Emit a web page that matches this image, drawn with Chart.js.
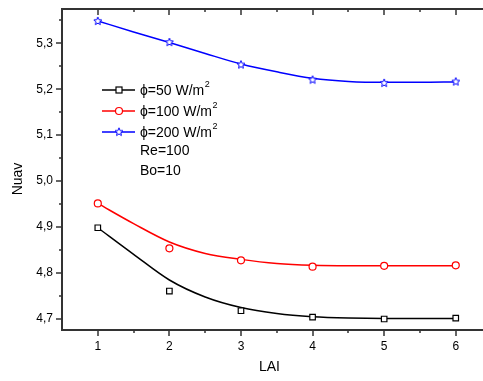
<!DOCTYPE html>
<html>
<head>
<meta charset="utf-8">
<script src="https://cdn.jsdelivr.net/npm/chart.js@4/dist/chart.umd.min.js"></script>
<style>
  html, body { margin: 0; padding: 0; background: #fff; }
  #wrap { width: 483px; height: 381px; }
</style>
</head>
<body>
<div id="wrap"><canvas id="nuChart"></canvas></div>
<script>
// measured points
const lai = [1, 2, 3, 4, 5, 6];
const nu50 = [4.898, 4.760, 4.717, 4.703, 4.699, 4.701];
const nu100 = [4.951, 4.853, 4.827, 4.813, 4.815, 4.816];
const nu200 = [5.349, 5.303, 5.254, 5.221, 5.214, 5.217];

// fitted curves, sampled every half unit of LAI
const laiFit = [1, 1.5, 2, 2.5, 3, 3.5, 4, 4.5, 5, 5.5, 6];
const fit50 = [4.898, 4.840, 4.784, 4.747, 4.724, 4.711, 4.704, 4.701, 4.700, 4.700, 4.700];
const fit100 = [4.951, 4.907, 4.867, 4.842, 4.829, 4.820, 4.816, 4.815, 4.815, 4.815, 4.815];
const fit200 = [5.349, 5.325, 5.302, 5.278, 5.255, 5.238, 5.224, 5.217, 5.215, 5.215, 5.216];

const yMajor = [4.7, 4.8, 4.9, 5.0, 5.1, 5.2, 5.3];
const yMinor = [4.75, 4.85, 4.95, 5.05, 5.15, 5.25, 5.35];
const xMinor = [1.5, 2.5, 3.5, 4.5, 5.5];

const legendLabels = ['\u03d5=50 W/m', '\u03d5=100 W/m', '\u03d5=200 W/m'];
const notes = ['Re=100', 'Bo=10'];

const FONT = '"Liberation Sans", Arial, sans-serif';
const AXIS = '#333';

// five-pointed hollow star marker
function makeStar(color) {
  const c = document.createElement('canvas');
  c.width = 10; c.height = 10;
  const g = c.getContext('2d');
  g.strokeStyle = color;
  g.fillStyle = '#fff';
  g.lineWidth = 1;
  g.beginPath();
  for (let i = 0; i < 10; i++) {
    const r = i % 2 === 0 ? 4.2 : 1.9;
    const a = -Math.PI / 2 + i * Math.PI / 5;
    const px = 5 + r * Math.cos(a), py = 5.3 + r * Math.sin(a);
    if (i === 0) g.moveTo(px, py); else g.lineTo(px, py);
  }
  g.closePath();
  g.fill();
  g.stroke();
  return c;
}
const starImg = makeStar('#0000ff');

const pts = (xs, ys) => xs.map((x, i) => ({ x: x, y: ys[i] }));

function fitSet(data, color) {
  return {
    data: pts(laiFit, data), showLine: true, borderColor: color, borderWidth: 1.5,
    pointRadius: 0, cubicInterpolationMode: 'monotone', order: 2
  };
}
function markSet(data, color, style, r) {
  return {
    data: pts(lai, data), showLine: false, borderColor: color, backgroundColor: '#fff',
    pointStyle: style, pointRadius: r, pointBorderWidth: 1.2, order: 1
  };
}

// frame, tick marks, y title and in-plot legend
const framePlugin = {
  id: 'frame',
  afterDraw(chart) {
    const { ctx, chartArea: a, scales: { x, y } } = chart;
    const edge = chart.width; // frame runs on past the plot's right edge
    ctx.save();
    ctx.strokeStyle = AXIS;
    ctx.lineWidth = 2;
    ctx.beginPath();
    ctx.moveTo(a.left, a.top); ctx.lineTo(edge, a.top);
    ctx.moveTo(a.left, a.top - 1); ctx.lineTo(a.left, a.bottom + 1);
    ctx.moveTo(a.left - 1, a.bottom); ctx.lineTo(edge, a.bottom);
    ctx.stroke();

    ctx.lineWidth = 1.5;
    ctx.beginPath();
    yMajor.forEach(v => { const p = Math.round(y.getPixelForValue(v)); ctx.moveTo(a.left, p); ctx.lineTo(a.left - 6, p); });
    yMinor.forEach(v => { const p = Math.round(y.getPixelForValue(v)); ctx.moveTo(a.left, p); ctx.lineTo(a.left - 3, p); });
    lai.forEach(v => {
      const p = Math.round(x.getPixelForValue(v));
      ctx.moveTo(p, a.bottom); ctx.lineTo(p, a.bottom + 6);
      ctx.moveTo(p, a.top); ctx.lineTo(p, a.top + 6);
    });
    xMinor.forEach(v => {
      const p = Math.round(x.getPixelForValue(v));
      ctx.moveTo(p, a.bottom); ctx.lineTo(p, a.bottom + 3);
      ctx.moveTo(p, a.top); ctx.lineTo(p, a.top + 3);
    });
    ctx.stroke();

    // y axis title
    ctx.fillStyle = '#000';
    ctx.font = '14px ' + FONT;
    ctx.textAlign = 'center';
    ctx.textBaseline = 'middle';
    ctx.translate(18, 179);
    ctx.rotate(-Math.PI / 2);
    ctx.fillText('Nuav', 0, 0);
    ctx.setTransform(1, 0, 0, 1, 0, 0);

    // legend
    const colors = ['#000', '#ff0000', '#0000ff'];
    const rows = [90, 111, 132];
    ctx.textAlign = 'left';
    rows.forEach((ry, i) => {
      ctx.strokeStyle = colors[i];
      ctx.lineWidth = 1.5;
      ctx.beginPath();
      ctx.moveTo(102, ry); ctx.lineTo(135, ry);
      ctx.stroke();
      ctx.lineWidth = 1.2;
      ctx.fillStyle = '#fff';
      if (i === 0) {
        ctx.fillRect(116, ry - 3, 6, 6);
        ctx.strokeRect(116, ry - 3, 6, 6);
      } else if (i === 1) {
        ctx.beginPath(); ctx.arc(119, ry, 3.5, 0, Math.PI * 2); ctx.fill(); ctx.stroke();
      } else {
        ctx.drawImage(starImg, 119 - 5, ry - 5.3);
      }
      ctx.fillStyle = '#000';
      ctx.font = '14px ' + FONT;
      ctx.fillText(legendLabels[i], 140, ry + 1);
      const w = ctx.measureText(legendLabels[i]).width;
      ctx.font = '9px ' + FONT;
      ctx.fillText('2', 140 + w + 0.5, ry - 5);
    });
    ctx.font = '14px ' + FONT;
    ctx.fillStyle = '#000';
    notes.forEach((t, i) => ctx.fillText(t, 140, 151 + i * 20));
    ctx.restore();
  }
};

new Chart(document.getElementById('nuChart'), {
  type: 'scatter',
  data: {
    datasets: [
      fitSet(fit50, '#000'),
      fitSet(fit100, '#ff0000'),
      fitSet(fit200, '#0000ff'),
      markSet(nu50, '#000', 'rect', 3.9),
      markSet(nu100, '#ff0000', 'circle', 3.5),
      markSet(nu200, '#0000ff', starImg, 5)
    ]
  },
  options: {
    responsive: true,
    maintainAspectRatio: false,
    animation: false,
    layout: { padding: { top: 9, right: 0, left: 0, bottom: 0 } },
    plugins: { legend: { display: false }, tooltip: { enabled: false } },
    scales: {
      x: {
        type: 'linear', min: 0.5, max: 6.294,
        grid: { display: false, drawTicks: false },
        border: { display: false },
        afterBuildTicks: s => { s.ticks = lai.map(v => ({ value: v })); },
        afterFit: s => { s.height = 51; s.paddingLeft = 0; s.paddingRight = 0; },
        ticks: { padding: 9, color: '#000', font: { family: FONT, size: 12 }, callback: v => String(v) },
        title: { display: true, text: 'LAI', color: '#000', font: { family: FONT, size: 14 }, padding: { top: 0, bottom: 5 } }
      },
      y: {
        type: 'linear', min: 4.675, max: 5.375,
        grid: { display: false, drawTicks: false },
        border: { display: false },
        afterBuildTicks: s => { s.ticks = yMajor.map(v => ({ value: v })); },
        afterFit: s => { s.width = 62; s.paddingTop = 0; s.paddingBottom = 0; },
        ticks: { padding: 9, color: '#000', font: { family: FONT, size: 12 }, callback: v => v.toFixed(1).replace('.', ',') }
      }
    }
  },
  plugins: [framePlugin]
});
</script>
</body>
</html>
